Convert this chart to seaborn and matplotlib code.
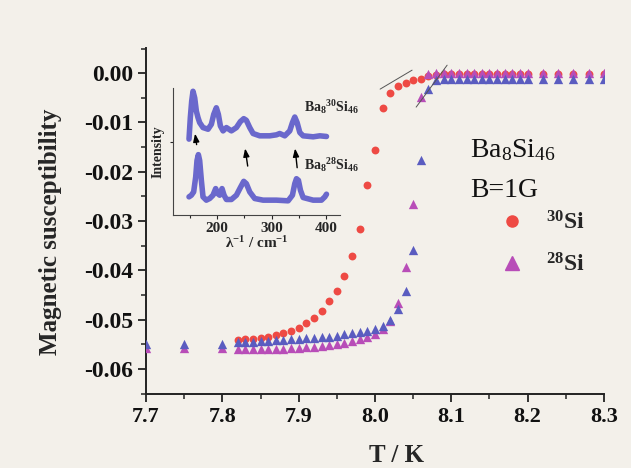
import numpy as np
import pandas as pd
import matplotlib
matplotlib.use("Agg")
import matplotlib.pyplot as plt
import seaborn as sns
from matplotlib.lines import Line2D

# ---------------- data ----------------
T_red = [7.82, 7.83, 7.84, 7.85, 7.86, 7.87, 7.88, 7.89, 7.90, 7.91,
         7.92, 7.93, 7.94, 7.95, 7.96, 7.97, 7.98, 7.99, 8.00, 8.01,
         8.02, 8.03, 8.04, 8.05, 8.06, 8.07, 8.08, 8.09, 8.10, 8.11,
         8.12, 8.13, 8.14, 8.15, 8.16, 8.17, 8.18, 8.19, 8.20,
         8.22, 8.24, 8.26, 8.28, 8.30]
chi_red = [-0.0542, -0.0540, -0.0539, -0.0537, -0.0535, -0.0531, -0.0528, -0.0523, -0.0518, -0.0506,
           -0.0496, -0.0482, -0.0462, -0.0441, -0.0412, -0.0371, -0.0316, -0.0227, -0.0156, -0.0070,
           -0.0041, -0.0026, -0.0019, -0.0014, -0.0011, -0.0006, -0.0003, -0.0001, -0.0001, -0.0001,
           -0.0001, -0.0001, -0.0001, -0.0001, -0.0001, -0.0001, -0.0001, -0.0001, -0.0001,
           -0.0001, -0.0001, -0.0001, -0.0001, -0.0001]

T_tri = [7.70, 7.75, 7.80, 7.82, 7.83, 7.84, 7.85, 7.86, 7.87, 7.88,
         7.89, 7.90, 7.91, 7.92, 7.93, 7.94, 7.95, 7.96, 7.97, 7.98,
         7.99, 8.00, 8.01, 8.02, 8.03, 8.04, 8.05, 8.06, 8.07, 8.08,
         8.09, 8.10, 8.11, 8.12, 8.13, 8.14, 8.15, 8.16, 8.17, 8.18,
         8.19, 8.20, 8.22, 8.24, 8.26, 8.28, 8.30]
chi_mag = [-0.0558, -0.0558, -0.0558, -0.0560, -0.0560, -0.0560, -0.0560, -0.0560, -0.0560, -0.0559,
           -0.0558, -0.0557, -0.0556, -0.0555, -0.0554, -0.0552, -0.0550, -0.0547, -0.0543, -0.0539,
           -0.0535, -0.0529, -0.0520, -0.0503, -0.0466, -0.0394, -0.0266, -0.0049, -0.0002, 0.0000,
           0.0000, 0.0000, 0.0000, 0.0000, 0.0000, 0.0000, 0.0000, 0.0000, 0.0000, 0.0000,
           0.0000, 0.0000, 0.0000, 0.0000, 0.0000, 0.0000, 0.0000]
chi_blue = [-0.0550, -0.0550, -0.0550, -0.0546, -0.0545, -0.0545, -0.0544, -0.0543, -0.0542, -0.0541,
            -0.0540, -0.0539, -0.0538, -0.0537, -0.0536, -0.0535, -0.0533, -0.0530, -0.0528, -0.0525,
            -0.0523, -0.0520, -0.0514, -0.0501, -0.0478, -0.0442, -0.0359, -0.0177, -0.0033, -0.0013,
            -0.0011, -0.0011, -0.0011, -0.0011, -0.0011, -0.0011, -0.0011, -0.0011, -0.0011, -0.0011,
            -0.0011, -0.0011, -0.0011, -0.0011, -0.0011, -0.0011, -0.0011]

# inset Raman spectra
wn_30 = [148.8, 151.2, 153.7, 156.1, 159.2, 162.2, 165.3, 168.3, 174.4, 183.6,
         189.7, 194.0, 198.8, 202.5, 206.2, 211.1, 217.2, 226.3, 235.5, 242.7,
         248.9, 253.7, 259.9, 266.0, 278.2, 296.5, 308.7, 314.8, 324.0, 333.1,
         338.0, 342.3, 346.6, 351.5, 357.6, 375.9, 388.1, 400.3]
int_30 = [22.5, 29.0, 34.0, 37.0, 35.0, 31.0, 29.0, 27.5, 26.0, 25.5,
          27.0, 30.0, 32.0, 30.0, 26.5, 25.0, 26.0, 25.0, 26.0, 27.8,
          28.7, 28.2, 26.0, 24.2, 23.5, 23.5, 23.8, 24.2, 23.5, 25.0,
          27.5, 29.2, 27.5, 24.5, 23.5, 23.2, 23.5, 23.3]
wn_28 = [148.8, 153.1, 157.3, 161.0, 163.4, 165.9, 168.3, 171.4, 174.4, 180.5,
         186.6, 192.7, 197.6, 201.3, 204.9, 209.2, 212.9, 217.2, 226.3, 235.5,
         242.7, 248.9, 253.7, 259.9, 269.0, 284.3, 308.7, 330.1, 338.0, 342.3,
         345.4, 349.0, 352.7, 357.6, 375.9, 391.1, 397.3, 400.3]
int_28 = [5.0, 5.5, 6.5, 11.0, 16.0, 17.8, 16.0, 10.0, 5.0, 4.0,
          4.5, 5.5, 7.5, 6.0, 5.5, 7.5, 5.5, 4.2, 4.2, 5.5,
          7.8, 9.7, 9.0, 6.5, 4.5, 4.0, 4.0, 3.8, 5.5, 9.0,
          10.5, 10.0, 7.0, 4.8, 4.0, 4.0, 5.0, 5.8]

x_ticks = [7.7, 7.8, 7.9, 8.0, 8.1, 8.2, 8.3]
y_ticks = [-0.06, -0.05, -0.04, -0.03, -0.02, -0.01, 0.00]

# ---------------- style ----------------
sns.set_theme(style="ticks")
bg = "#f3f0ea"
plt.rcParams["font.family"] = ["Liberation Serif", "DejaVu Serif"]
plt.rcParams["mathtext.fontset"] = "custom"
plt.rcParams["mathtext.rm"] = "Liberation Serif"
plt.rcParams["mathtext.it"] = "Liberation Serif:italic"
plt.rcParams["mathtext.bf"] = "Liberation Serif:bold"
plt.rcParams["mathtext.default"] = "regular"

red = "#ee4a44"
mag = "#b84db8"
blue = "#5a5cc0"
spec_c = "#6a68cc"

fig = plt.figure(figsize=(6.31, 4.68), dpi=100, facecolor=bg)
ax = fig.add_axes([0.2314, 0.1581, 0.7258, 0.7393])
ax.set_facecolor(bg)

df_red = pd.DataFrame({"T": T_red, "chi": chi_red})
df_mag = pd.DataFrame({"T": T_tri, "chi": chi_mag})
df_blue = pd.DataFrame({"T": T_tri, "chi": chi_blue})

sns.scatterplot(data=df_red, x="T", y="chi", ax=ax, color=red, marker="o",
                s=32, linewidth=0, legend=False, zorder=3)
sns.scatterplot(data=df_mag, x="T", y="chi", ax=ax, color=mag, marker="^",
                s=45, linewidth=0, legend=False, zorder=4)
sns.scatterplot(data=df_blue, x="T", y="chi", ax=ax, color=blue, marker="^",
                s=45, linewidth=0, legend=False, zorder=4)

# tangent construction lines
ax.plot([8.0067, 8.0486], [-0.00324, 0.00061], color="#555555", lw=0.7, zorder=5)
ax.plot([8.0539, 8.0945], [-0.00689, 0.00162], color="#555555", lw=0.7, zorder=5)

ax.set_xlim(7.7, 8.3)
ax.set_ylim(-0.0651, 0.0051)
ax.set_xticks(x_ticks)
ax.set_xticklabels([f"{v:.1f}" for v in x_ticks])
ax.set_yticks(y_ticks)
ax.set_yticklabels([f"{v:.2f}" for v in y_ticks])
ax.set_xticks([7.75, 7.85, 7.95, 8.05, 8.15, 8.25], minor=True)
ax.set_yticks([-0.065, -0.055, -0.045, -0.035, -0.025, -0.015, -0.005, 0.005], minor=True)
ax.tick_params(axis="both", which="major", direction="out", length=6, width=1.3,
               color="#222222", labelcolor="#111111")
ax.tick_params(axis="x", which="major", labelsize=16)
ax.tick_params(axis="y", which="major", labelsize=17)
ax.tick_params(axis="both", which="minor", direction="out", length=3.5, width=1.1,
               color="#222222")
for lab in ax.get_xticklabels() + ax.get_yticklabels():
    lab.set_fontweight("bold")
sns.despine(ax=ax)
for sp in ("left", "bottom"):
    ax.spines[sp].set_linewidth(1.4)
    ax.spines[sp].set_color("#222222")

ax.set_xlabel("T / K", fontsize=18, fontweight="bold", labelpad=4)
ax.xaxis.set_label_coords(0.546, -0.145)
ax.set_ylabel("Magnetic susceptibility", fontsize=18, fontweight="bold")
ax.yaxis.set_label_coords(-0.184, 0.47)

# annotation text
ax.text(0.707, 0.705, r"Ba$_{8}$Si$_{46}$", transform=ax.transAxes,
        fontsize=20, va="center", ha="left", color="#111111")
ax.text(0.707, 0.588, "B=1G", transform=ax.transAxes,
        fontsize=20, va="center", ha="left", color="#111111")

handles = [Line2D([], [], marker="o", color=red, linestyle="none", markersize=8),
           Line2D([], [], marker="^", color=mag, linestyle="none", markersize=10)]
ax.legend(handles, [r"$^{30}$Si", r"$^{28}$Si"], loc="upper left",
          bbox_to_anchor=(0.728, 0.59), frameon=False,
          prop={"family": "Liberation Serif", "weight": "bold", "size": 17},
          handletextpad=0.9, labelspacing=0.8, handlelength=1.0)

# ---------------- inset ----------------
axi = fig.add_axes([0.2746, 0.5406, 0.2642, 0.2714])
axi.patch.set_alpha(0)
axi.plot(wn_30, int_30, color=spec_c, lw=4, solid_capstyle="round", solid_joinstyle="round")
axi.plot(wn_28, int_28, color=spec_c, lw=4, solid_capstyle="round", solid_joinstyle="round")
axi.set_xlim(120, 425)
axi.set_ylim(-0.5, 38)
axi.set_xticks([200, 300, 400])
axi.set_xticks([150, 250, 350], minor=True)
axi.set_yticks([21.5])
axi.set_yticklabels([])
axi.tick_params(axis="x", which="major", direction="out", length=3, width=0.8,
                labelsize=11, pad=2)
axi.tick_params(axis="x", which="minor", direction="out", length=2, width=0.8)
axi.tick_params(axis="y", direction="out", length=2, width=0.8)
for lab in axi.get_xticklabels():
    lab.set_fontweight("bold")
sns.despine(ax=axi)
for sp in ("left", "bottom"):
    axi.spines[sp].set_linewidth(0.8)
    axi.spines[sp].set_color("#444444")
axi.set_xlabel(r"$\lambda^{-1}$ / cm$^{-1}$", fontsize=11, fontweight="bold", labelpad=0)
axi.set_ylabel("Intensity", fontsize=10, fontweight="bold", labelpad=1)

arrow_kw = dict(arrowstyle="-|>,head_length=0.4,head_width=0.15", color="black", lw=1.0)
axi.annotate("", xy=(159.2, 25.0), xytext=(163.4, 20.0), arrowprops=arrow_kw)
axi.annotate("", xy=(250.7, 20.5), xytext=(256.9, 13.5), arrowprops=arrow_kw)
axi.annotate("", xy=(342.3, 20.5), xytext=(347.2, 13.0), arrowprops=arrow_kw)

axi.text(360, 32.2, r"Ba$_{8}$$^{30}$Si$_{46}$", fontsize=10, fontweight="bold",
         va="center", ha="left", clip_on=False)
axi.text(360, 14.8, r"Ba$_{8}$$^{28}$Si$_{46}$", fontsize=10, fontweight="bold",
         va="center", ha="left", clip_on=False)

fig.savefig("out.png", dpi=100, facecolor=bg)
